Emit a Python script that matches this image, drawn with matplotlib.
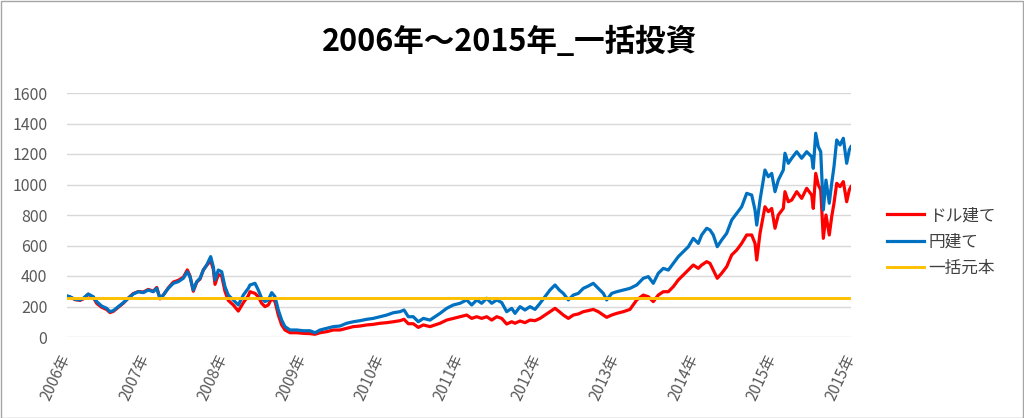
import matplotlib
matplotlib.use("Agg")
import matplotlib.pyplot as plt
from matplotlib.patches import Rectangle

plt.rcParams['font.family'] = ['Noto Sans CJK JP', 'DejaVu Sans']

title = "2006年～2015年_一括投資"
series_names = ["ドル建て", "円建て", "一括元本"]

dates = [
    2006.000, 2006.042, 2006.106, 2006.170, 2006.212, 2006.275, 2006.339, 2006.383, 2006.446, 2006.510,
    2006.552, 2006.594, 2006.658, 2006.722, 2006.785, 2006.849, 2006.913, 2006.977, 2007.040, 2007.104,
    2007.148, 2007.190, 2007.232, 2007.295, 2007.359, 2007.423, 2007.487, 2007.538, 2007.572, 2007.614,
    2007.658, 2007.700, 2007.742, 2007.785, 2007.836, 2007.869, 2007.891, 2007.933, 2007.976, 2008.018,
    2008.060, 2008.124, 2008.188, 2008.252, 2008.315,
    2008.337, 2008.401, 2008.443, 2008.486, 2008.528, 2008.570, 2008.614, 2008.656, 2008.698, 2008.741,
    2008.783, 2008.847, 2008.933, 2009.017, 2009.102, 2009.166, 2009.230, 2009.315, 2009.399, 2009.485,
    2009.570, 2009.654, 2009.740, 2009.825, 2009.909, 2009.995, 2010.080, 2010.164, 2010.250, 2010.301,
    2010.356, 2010.419, 2010.483, 2010.547, 2010.632, 2010.696, 2010.760,
    2010.845, 2010.929, 2011.015, 2011.100, 2011.164, 2011.228, 2011.291, 2011.355, 2011.419, 2011.483,
    2011.546, 2011.610, 2011.674, 2011.716, 2011.780, 2011.843, 2011.907, 2011.971, 2012.035, 2012.098,
    2012.162, 2012.226, 2012.281, 2012.332, 2012.396, 2012.459, 2012.523, 2012.587, 2012.650, 2012.714,
    2012.778, 2012.842, 2012.885, 2012.949, 2013.013, 2013.097, 2013.182,
    2013.268, 2013.352, 2013.416, 2013.479, 2013.543, 2013.607, 2013.671, 2013.734, 2013.798, 2013.862,
    2013.926, 2013.989, 2014.053, 2014.096, 2014.160, 2014.202, 2014.244, 2014.295, 2014.351, 2014.415,
    2014.479, 2014.543, 2014.606, 2014.670, 2014.734, 2014.776, 2014.798, 2014.840, 2014.903, 2014.946,
    2014.989, 2015.031, 2015.073, 2015.137, 2015.158, 2015.201, 2015.244, 2015.308, 2015.371, 2015.435,
    2015.499, 2015.519, 2015.550, 2015.583, 2015.614, 2015.647, 2015.681, 2015.723, 2015.754, 2015.783,
    2015.818, 2015.860, 2015.902, 2015.945, 2015.978, 2016.000,
]

dollar_based = [
    268, 262, 245, 240, 250, 280, 260, 220, 195, 180,
    160, 168, 195, 222, 255, 285, 298, 295, 312, 300,
    325, 250, 275, 322, 360, 372, 392, 440, 400, 300,
    360, 380, 440, 470, 500, 445, 345, 410, 400, 300,
    240, 210, 170, 225, 270,
    297, 286, 264, 221, 199, 210, 254, 232, 144, 79,
    46, 28, 28, 24, 22, 18, 28, 35, 46, 46,
    57, 68, 72, 79, 83, 90, 94, 100, 107, 116,
    87, 87, 63, 79, 68, 79, 90,
    111, 122, 133, 144, 122, 133, 122, 133, 111, 133,
    122, 85, 100, 90, 105, 94, 111, 107, 122, 144,
    166, 188, 166, 144, 122, 144, 151, 166, 173, 181,
    166, 144, 129, 144, 155, 166, 181,
    243, 275, 264, 232, 275, 297, 297, 330, 374, 407,
    439, 472, 450, 472, 494, 483, 439, 385, 418, 461,
    538, 570, 614, 669, 669, 614, 505, 680, 854, 822,
    843, 713, 800, 843, 953, 887, 898, 953, 909, 975,
    931, 843, 1073, 997, 964, 647, 800, 669, 789, 877,
    1008, 986, 1019, 887, 964, 986,
]

yen_based = [
    270, 264, 247, 243, 254, 282, 264, 232, 203, 188,
    166, 173, 199, 225, 254, 282, 297, 291, 308, 297,
    319, 254, 275, 319, 352, 363, 385, 428, 395, 308,
    363, 385, 439, 472, 527, 461, 374, 439, 428, 330,
    275, 243, 210, 275, 319,
    341, 352, 308, 254, 232, 243, 291, 264, 177, 111,
    68, 46, 46, 41, 41, 28, 46, 57, 68, 72,
    90, 100, 107, 116, 122, 133, 144, 159, 166, 177,
    133, 133, 100, 122, 111, 133, 155,
    188, 210, 221, 243, 210, 243, 221, 254, 221, 243,
    226, 166, 188, 155, 199, 177, 199, 181, 221, 264,
    308, 341, 308, 286, 243, 275, 286, 319, 334, 352,
    319, 286, 243, 286, 297, 308, 319,
    341, 385, 396, 352, 418, 450, 439, 483, 527, 559,
    592, 647, 614, 669, 713, 702, 669, 592, 636, 680,
    767, 811, 854, 942, 931, 833, 734, 898, 1095, 1051,
    1073, 953, 1029, 1095, 1205, 1139, 1172, 1215, 1172, 1215,
    1182, 1106, 1336, 1248, 1215, 833, 1029, 877, 1008, 1117,
    1292, 1259, 1303, 1139, 1226, 1248,
]

principal = 255

tick_years = [2006, 2007, 2008, 2009, 2010, 2011, 2012, 2013, 2014, 2015, 2016]
tick_labels = ["2006年", "2007年", "2008年", "2009年", "2010年", "2011年",
               "2012年", "2013年", "2014年", "2015年", "2015年"]
y_ticks = [0, 200, 400, 600, 800, 1000, 1200, 1400, 1600]

fig = plt.figure(figsize=(10.24, 4.18), dpi=100)
ax = fig.add_axes([66.7 / 1024, 1 - 337 / 418, (851 - 66.7) / 1024, (337 - 93) / 418])

l1, = ax.plot(dates, dollar_based, color="#ff0000", lw=2.3, label=series_names[0], zorder=3)
l2, = ax.plot(dates, yen_based, color="#0070c0", lw=2.3, label=series_names[1], zorder=4)
l3 = ax.axhline(principal, color="#ffc000", lw=2.1, label=series_names[2], zorder=5)

ax.set_xlim(tick_years[0], tick_years[-1])
ax.set_ylim(y_ticks[0], y_ticks[-1])
ax.set_yticks(y_ticks)
ax.set_xticks(tick_years)
ax.set_xticklabels(tick_labels, rotation=65, ha="right", va="center",
                   rotation_mode="anchor", fontsize=11, color="#595959")
ax.tick_params(axis="y", length=0, pad=14, labelsize=11.5, labelcolor="#595959")
ax.tick_params(axis="x", length=0, pad=13)
ax.grid(axis="y", color="#d9d9d9", lw=1.0, zorder=0)
ax.grid(axis="x", visible=False)
for s in ax.spines.values():
    s.set_visible(False)

fig.text(509 / 1024, 1 - 42 / 418, title, ha="center", va="center",
         fontsize=22, fontweight="bold", color="black")

fig.legend(handles=[l1, l2, l3], loc="center left",
           bbox_to_anchor=(887 / 1024, 1 - 242 / 418), frameon=False,
           fontsize=12, handlelength=2.2, handletextpad=0.3,
           labelspacing=0.55, borderpad=0, borderaxespad=0,
           labelcolor="#404040")

fig.patches.append(Rectangle((0.5 / 1024, 0.5 / 418), 1 - 1.5 / 1024, 1 - 1.5 / 418,
                             transform=fig.transFigure, fill=False,
                             edgecolor="#a6a6a6", lw=1.0))

fig.savefig("out.png", dpi=100, facecolor="white")
